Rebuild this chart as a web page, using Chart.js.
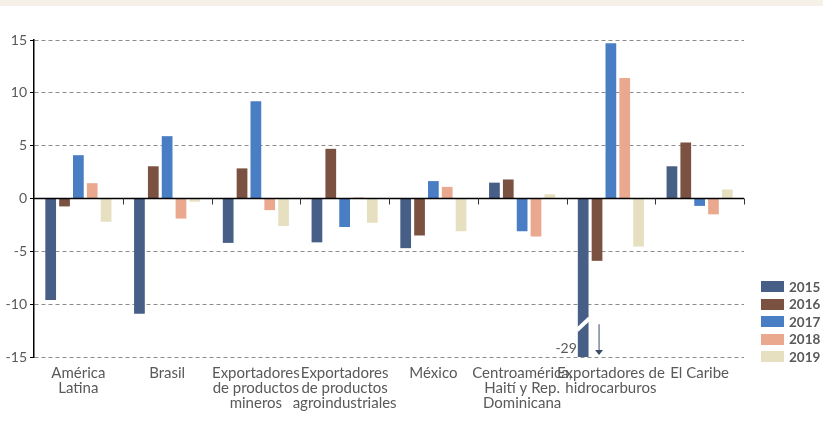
<!DOCTYPE html>
<html>
<head>
<meta charset="utf-8">
<script src="https://cdn.jsdelivr.net/npm/chart.js@4"></script>
<style>
  html, body { margin: 0; padding: 0; background: #fff; }
  #wrap { position: relative; width: 823px; height: 424px; }
  #band { position: absolute; left: 0; top: 0; width: 823px; height: 6px; background: #f5f1e9; }
  #legend { position: absolute; left: 761px; top: 278px; font: bold 13.5px Lato, sans-serif; color: #595959; }
  .row { display: flex; align-items: center; height: 17.5px; }
  .box { width: 23px; height: 11px; margin-right: 5px; }
</style>
</head>
<body>
<div id="wrap">
  <div id="band"></div>
  <canvas id="chart" width="823" height="424"></canvas>
  <div id="legend"></div>
</div>
<script>
// categories and series values (% variation)
const categories = [
  ['América', 'Latina'],
  ['Brasil'],
  ['Exportadores', 'de productos', 'mineros'],
  ['Exportadores', 'de productos', 'agroindustriales'],
  ['México'],
  ['Centroamérica,', 'Haití y Rep.', 'Dominicana'],
  ['Exportadores de', 'hidrocarburos'],
  ['El Caribe']
];
const years = ['2015', '2016', '2017', '2018', '2019'];
const colors = ['#475e87', '#7b5242', '#4a7ec4', '#eaa98f', '#e6e0c0'];

const v2015 = [-9.6, -10.9, -4.2, -4.15, -4.7, 1.5, -29, 3.05];
const v2016 = [-0.75, 3.05, 2.85, 4.7, -3.5, 1.8, -5.9, 5.3];
const v2017 = [4.1, 5.9, 9.2, -2.7, 1.65, -3.1, 14.7, -0.7];
const v2018 = [1.45, -1.9, -1.1, 0.1, 1.1, -3.6, 11.4, -1.5];
const v2019 = [-2.2, -0.3, -2.6, -2.3, -3.1, 0.4, -4.55, 0.85];
const series = [v2015, v2016, v2017, v2018, v2019];

const yTicks = [-15, -10, -5, 0, 5, 10, 15];
const brokenBar = { dataset: 0, index: 6, label: '-29' };

const gray = '#595959';
const font = 'Lato, sans-serif';

// zero line, category ticks and the broken-bar marker
const extrasPlugin = {
  id: 'extras',
  afterDatasetsDraw(chart) {
    const { ctx, chartArea, scales } = chart;
    const x = scales.x, y = scales.y;
    const y0 = y.getPixelForValue(0);
    ctx.save();
    ctx.strokeStyle = '#000';
    ctx.lineWidth = 1.5;
    ctx.beginPath();
    ctx.moveTo(chartArea.left, y0);
    ctx.lineTo(chartArea.right, y0);
    ctx.stroke();

    // small ticks between categories, under the zero line
    ctx.lineWidth = 1;
    ctx.strokeStyle = '#333';
    const step = x.getPixelForValue(1) - x.getPixelForValue(0);
    for (let i = 1; i <= categories.length; i++) {
      const bx = Math.round(x.getPixelForValue(i - 1) + step / 2) + 0.5;
      ctx.beginPath();
      ctx.moveTo(bx, y0);
      ctx.lineTo(bx, y0 + 6);
      ctx.stroke();
    }

    // break on the clipped bar
    const bar = chart.getDatasetMeta(brokenBar.dataset).data[brokenBar.index];
    const half = bar.width / 2;
    const yb = y.getPixelForValue(-11.9);
    ctx.strokeStyle = '#fff';
    ctx.lineWidth = 4;
    ctx.beginPath();
    ctx.moveTo(bar.x - half - 1, yb + 6);
    ctx.lineTo(bar.x + half + 1, yb - 6);
    ctx.stroke();

    // value label and arrow
    ctx.fillStyle = gray;
    ctx.font = '14px ' + font;
    ctx.textAlign = 'right';
    ctx.textBaseline = 'middle';
    ctx.fillText(brokenBar.label, bar.x - half - 1, y.getPixelForValue(-14.2));
    const ax = bar.x + half + 10.5;
    const ya = y.getPixelForValue(-11.9), yz = y.getPixelForValue(-14.8);
    ctx.strokeStyle = '#3a4a6b';
    ctx.fillStyle = '#3a4a6b';
    ctx.lineWidth = 1;
    ctx.beginPath();
    ctx.moveTo(ax, ya);
    ctx.lineTo(ax, yz - 4);
    ctx.stroke();
    ctx.beginPath();
    ctx.moveTo(ax - 4, yz - 5);
    ctx.lineTo(ax + 4, yz - 5);
    ctx.lineTo(ax, yz);
    ctx.closePath();
    ctx.fill();
    ctx.restore();
  }
};

new Chart(document.getElementById('chart'), {
  type: 'bar',
  data: {
    labels: categories,
    datasets: years.map((yr, i) => ({
      label: yr,
      data: series[i],
      backgroundColor: colors[i],
      categoryPercentage: 0.78,
      barPercentage: 0.775
    }))
  },
  options: {
    responsive: false,
    animation: false,
    layout: { padding: { left: 0, right: 79, top: 40, bottom: 0 } },
    plugins: { legend: { display: false }, tooltip: { enabled: false } },
    scales: {
      x: {
        grid: { display: false },
        border: { display: false },
        afterFit(scale) { scale.height = 67; },
        ticks: {
          autoSkip: false, maxRotation: 0, minRotation: 0, padding: 0,
          color: gray, font: { family: font, size: 15, lineHeight: 1.03 }
        }
      },
      y: {
        min: -15, max: 15,
        afterFit(scale) { scale.width = 34; },
        afterBuildTicks(scale) { scale.ticks = yTicks.map(v => ({ value: v })); },
        grid: {
          color: ctx => ctx.tick && ctx.tick.value === 0 ? 'rgba(0,0,0,0)' : '#8c8c8c',
          tickColor: '#000', tickLength: 4, lineWidth: 1
        },
        border: { display: true, color: '#000', width: 1.5, dash: [4, 3] },
        ticks: { padding: 3, color: gray, font: { family: font, size: 14 } }
      }
    }
  },
  plugins: [extrasPlugin]
});

// legend
const legend = document.getElementById('legend');
years.forEach((yr, i) => {
  const row = document.createElement('div');
  row.className = 'row';
  row.innerHTML = '<span class="box" style="background:' + colors[i] + '"></span><span>' + yr + '</span>';
  legend.appendChild(row);
});
</script>
</body>
</html>
